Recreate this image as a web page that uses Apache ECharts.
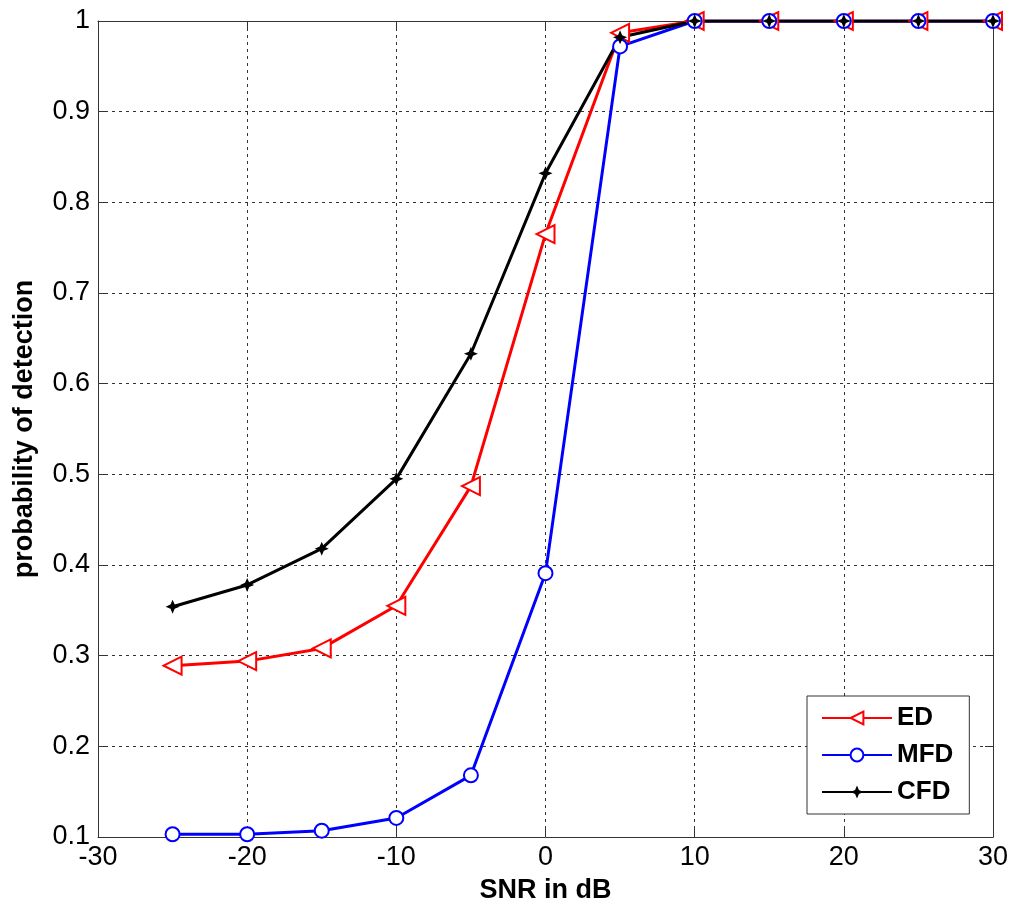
<!DOCTYPE html>
<html>
<head>
<meta charset="utf-8">
<script src="https://cdn.jsdelivr.net/npm/echarts@6/dist/echarts.min.js"></script>
<style>
  html, body { margin: 0; padding: 0; background: #fff; }
  #chart { width: 1010px; height: 906px; }
</style>
</head>
<body>
<div id="chart"></div>
<script>
// SNR values (dB) and detection probabilities per detector
const snr = [-25, -20, -15, -10, -5, 0, 5, 10, 15, 20, 25, 30];
const pdED  = [0.289, 0.294, 0.308, 0.355, 0.487, 0.765, 0.987, 1, 1, 1, 1, 1];
const pdMFD = [0.103, 0.103, 0.107, 0.121, 0.168, 0.391, 0.972, 1, 1, 1, 1, 1];
const pdCFD = [0.354, 0.378, 0.418, 0.495, 0.633, 0.832, 0.982, 1, 1, 1, 1, 1];
const seriesNames = ['ED', 'MFD', 'CFD'];

const FONT = '"Liberation Sans", Arial, sans-serif';
const AX = '#333';
const star = 'path://M0,-10 L3,-3 L10,0 L3,3 L0,10 L-3,3 L-10,0 L-3,-3 Z';

function pairs(xs, ys) { return xs.map((x, i) => [x, ys[i]]); }
function fmtY(v) { return String(Math.round(v * 10) / 10); }

const tickLabel = { fontFamily: FONT, fontSize: 27, fontWeight: 'normal', color: '#000' };
const titleText = { fontFamily: FONT, fontSize: 27, fontWeight: 'bold', color: '#000' };
const dashed = { show: true, lineStyle: { color: AX, type: [3, 4], width: 1 } };
const frameLine = { show: true, onZero: false, lineStyle: { color: AX, width: 1 } };
const innerTick = { show: true, inside: true, length: 8, lineStyle: { color: AX } };

const chart = echarts.init(document.getElementById('chart'), null, { renderer: 'canvas' });
chart.setOption({
  animation: false,
  backgroundColor: '#fff',
  grid: { left: 98, top: 21, right: 17, bottom: 69, containLabel: false, outerBoundsMode: 'none' },
  xAxis: [{
    type: 'value', min: -30, max: 30, interval: 10,
    name: 'SNR in dB', nameLocation: 'middle', nameGap: 40,
    nameTextStyle: titleText,
    axisLine: frameLine, axisTick: innerTick,
    axisLabel: Object.assign({ margin: 7 }, tickLabel),
    splitLine: dashed
  }, {
    type: 'value', min: -30, max: 30, interval: 10, position: 'top',
    axisLine: frameLine, axisTick: innerTick,
    axisLabel: { show: false }, splitLine: { show: false }
  }],
  yAxis: [{
    type: 'value', min: 0.1, max: 1, interval: 0.1,
    name: 'probability of detection', nameLocation: 'middle', nameGap: 60, nameRotate: 90,
    nameTextStyle: titleText,
    axisLine: frameLine, axisTick: innerTick,
    axisLabel: Object.assign({ margin: 8, formatter: fmtY }, tickLabel),
    splitLine: dashed
  }, {
    type: 'value', min: 0.1, max: 1, interval: 0.1, position: 'right',
    axisLine: frameLine, axisTick: innerTick,
    axisLabel: { show: false }, splitLine: { show: false }
  }],
  legend: {
    left: 807, top: 696, orient: 'vertical',
    data: seriesNames,
    backgroundColor: '#fff', borderColor: AX, borderWidth: 1, borderRadius: 0,
    padding: [9, 16, 9, 14], itemGap: 11, itemWidth: 70, itemHeight: 16,
    textStyle: { fontFamily: FONT, fontSize: 26, fontWeight: 'bold', color: '#000' }
  },
  series: [{
    name: seriesNames[0], type: 'line', data: pairs(snr, pdED),
    symbol: 'emptyTriangle', symbolSize: 18, symbolRotate: 90,
    color: '#ff0000',
    lineStyle: { color: '#ff0000', width: 3 },
    itemStyle: { color: '#ff0000', borderColor: '#ff0000', borderWidth: 2.5 }
  }, {
    name: seriesNames[1], type: 'line', data: pairs(snr, pdMFD),
    symbol: 'emptyCircle', symbolSize: 14,
    color: '#0000ff',
    lineStyle: { color: '#0000ff', width: 3 },
    itemStyle: { color: '#0000ff', borderColor: '#0000ff', borderWidth: 2.5 }
  }, {
    name: seriesNames[2], type: 'line', data: pairs(snr, pdCFD),
    symbol: star, symbolSize: 14,
    color: '#000',
    lineStyle: { color: '#000', width: 3 },
    itemStyle: { color: '#000' }
  }]
});
</script>
</body>
</html>
